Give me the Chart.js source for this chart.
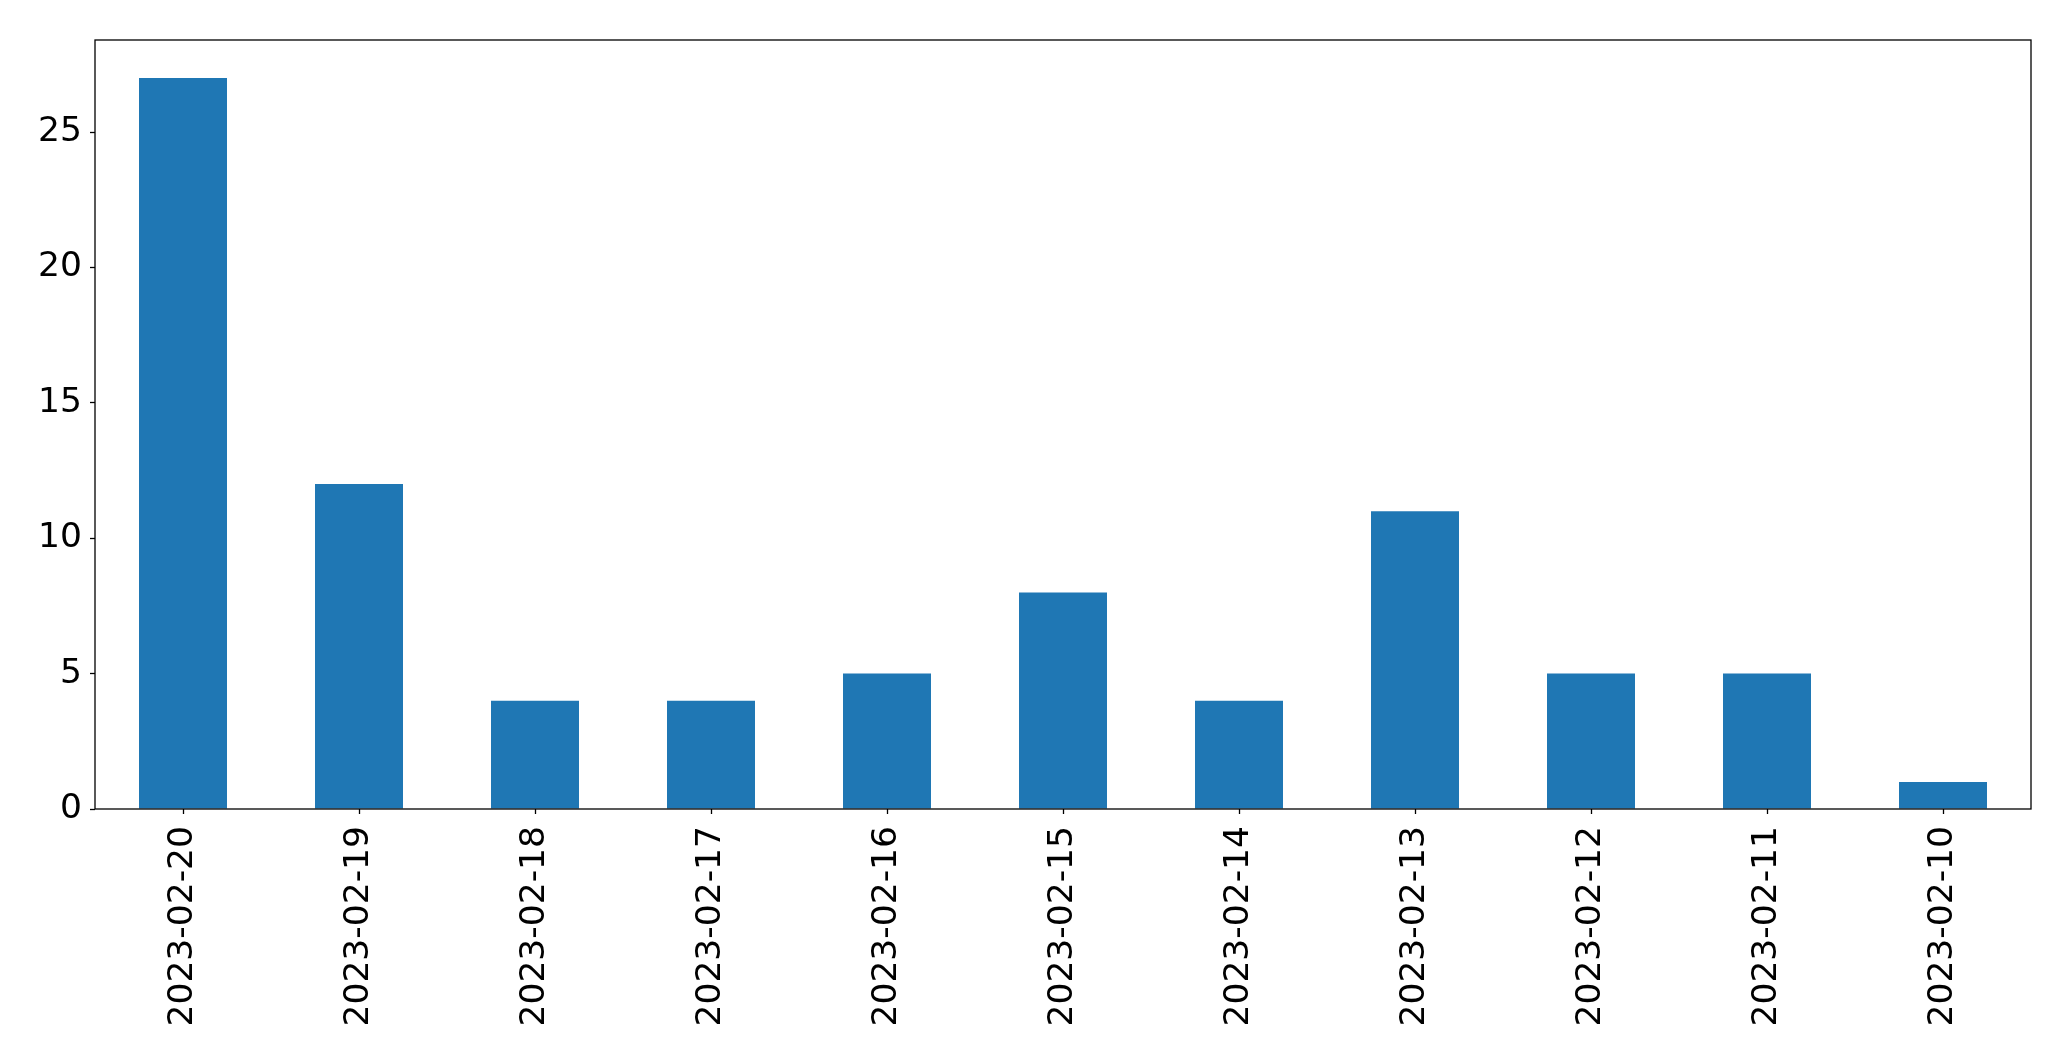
<!DOCTYPE html>
<html>
<head>
<meta charset="utf-8">
<script src="https://cdn.jsdelivr.net/npm/chart.js@4/dist/chart.umd.min.js"></script>
<style>
  html, body { margin: 0; padding: 0; background: #fff; }
  canvas { display: block; }
</style>
</head>
<body>
<canvas id="chart" width="2071" height="1061"></canvas>
<script>
const dates = ["2023-02-20", "2023-02-19", "2023-02-18", "2023-02-17", "2023-02-16", "2023-02-15", "2023-02-14", "2023-02-13", "2023-02-12", "2023-02-11", "2023-02-10"];
const counts = [27, 12, 4, 4, 5, 8, 4, 11, 5, 5, 1];
const yTicks = [0, 5, 10, 15, 20, 25];

const FONT = { family: "'DejaVu Sans', sans-serif", size: 34.5 };

// matplotlib-style full frame round the plot area
const frame = {
  id: "frame",
  afterDraw(chart) {
    const { ctx, chartArea: a } = chart;
    ctx.save();
    ctx.strokeStyle = "#000";
    ctx.lineWidth = 1.3;
    ctx.strokeRect(a.left, a.top, a.right - a.left, a.bottom - a.top);
    ctx.restore();
  },
};

new Chart(document.getElementById("chart"), {
  type: "bar",
  data: {
    labels: dates,
    datasets: [
      {
        data: counts,
        backgroundColor: "#1f77b4",
        borderWidth: 0,
        barPercentage: 0.5,
        categoryPercentage: 1,
      },
    ],
  },
  options: {
    responsive: false,
    animation: false,
    layout: { padding: { top: 40, right: 40, left: 0, bottom: 0 } },
    plugins: { legend: { display: false }, tooltip: { enabled: false } },
    scales: {
      x: {
        grid: { display: true, drawOnChartArea: false, offset: false, tickLength: 5, color: "#000", tickWidth: 1.3 },
        border: { display: false },
        ticks: { font: FONT, color: "#000", minRotation: 90, maxRotation: 90, padding: 12, autoSkip: false },
        afterFit: (s) => { s.height = 252; },
      },
      y: {
        min: 0,
        max: 28.4,
        grid: { display: true, drawOnChartArea: false, tickLength: 5, color: "#000", tickWidth: 1.3 },
        border: { display: false },
        ticks: { font: FONT, color: "#000", padding: 8, includeBounds: false, stepSize: 5 },
        afterBuildTicks: (s) => { s.ticks = yTicks.map((v) => ({ value: v })); },
        afterFit: (s) => { s.width = 95; },
      },
    },
  },
  plugins: [frame],
});
</script>
</body>
</html>
